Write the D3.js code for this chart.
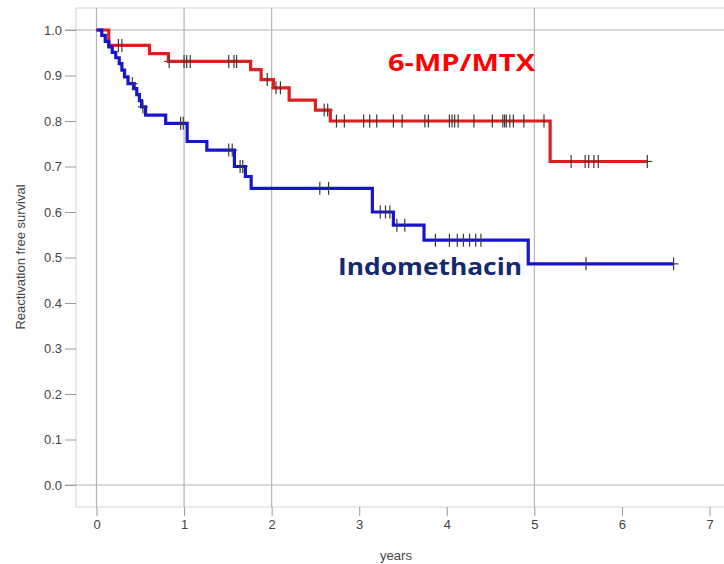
<!DOCTYPE html>
<html>
<head>
<meta charset="utf-8">
<script src="https://cdn.jsdelivr.net/npm/d3@7"></script>
<style>
  html, body { margin: 0; padding: 0; background: #fff; }
  svg { display: block; }
</style>
</head>
<body>
<svg id="chart" width="724" height="564"></svg>
<script>
// Kaplan-Meier reactivation-free survival, two treatment groups

// 6-MP/MTX: event times (years) and survival after each event
const mtxTimes    = [0.14, 0.605, 0.82, 1.76, 1.88, 2.02, 2.2, 2.5, 2.67, 5.18];
const mtxSurvival = [0.966, 0.948, 0.931, 0.913, 0.891, 0.873, 0.846, 0.824, 0.80, 0.711];
const mtxCensored = [0.25, 0.29, 0.83, 1.0, 1.03, 1.07, 1.51, 1.57, 1.6, 1.95, 2.05, 2.1,
  2.6, 2.64, 2.74, 2.83, 3.05, 3.12, 3.2, 3.39, 3.49, 3.75, 3.79, 4.03, 4.06, 4.09, 4.13,
  4.31, 4.52, 4.64, 4.66, 4.68, 4.72, 4.76, 4.88, 5.11, 5.42, 5.58, 5.62, 5.68, 5.73, 6.29];

// Indomethacin
const indoTimes    = [0.06, 0.10, 0.14, 0.18, 0.22, 0.26, 0.29, 0.32, 0.36, 0.43, 0.46, 0.49,
  0.515, 0.56, 0.79, 1.035, 1.26, 1.575, 1.70, 1.766, 3.15, 3.39, 3.74, 4.93];
const indoSurvival = [0.988, 0.975, 0.963, 0.951, 0.939, 0.926, 0.912, 0.897, 0.882, 0.871,
  0.858, 0.845, 0.831, 0.813, 0.795, 0.755, 0.736, 0.70, 0.678, 0.652, 0.60, 0.571, 0.538, 0.486];
const indoCensored = [0.41, 0.53, 0.96, 0.99, 1.51, 1.55, 1.64, 1.67, 2.55, 2.65, 3.24, 3.3,
  3.35, 3.43, 3.52, 3.87, 4.03, 4.12, 4.19, 4.26, 4.33, 4.39, 5.59, 6.59];

const xTicks = [0, 1, 2, 3, 4, 5, 6, 7];
const yTicks = [0, 0.1, 0.2, 0.3, 0.4, 0.5, 0.6, 0.7, 0.8, 0.9, 1.0];
const refYears = [0, 1, 2, 5];
const refLevels = [0, 1];

const svg = d3.select("#chart");
const x = d3.scaleLinear().domain([0, 7]).range([96.5, 709.5]);
const y = d3.scaleLinear().domain([0, 1]).range([485, 30]);

const frame = { left: 76, top: 8, bottom: 507, right: 740 };
const gridColor = "#b4b4b4";
const fontFam = "'Liberation Sans', Arial, sans-serif";

// plot frame
svg.append("rect")
  .attr("x", frame.left).attr("y", frame.top)
  .attr("width", frame.right - frame.left).attr("height", frame.bottom - frame.top)
  .attr("fill", "none").attr("stroke", "#d4d4d4").attr("stroke-width", 1);

// reference lines
svg.selectAll("line.vref").data(refYears).join("line")
  .attr("x1", d => x(d)).attr("x2", d => x(d))
  .attr("y1", frame.top).attr("y2", frame.bottom)
  .attr("stroke", gridColor).attr("stroke-width", 1.2);
svg.selectAll("line.href").data(refLevels).join("line")
  .attr("x1", 65).attr("x2", 724)
  .attr("y1", d => y(d)).attr("y2", d => y(d))
  .attr("stroke", gridColor).attr("stroke-width", 1.2);

// y axis
const yAxis = d3.axisLeft(y).tickValues(yTicks).tickFormat(d3.format(".1f")).tickSize(11).tickPadding(3);
const gy = svg.append("g").attr("transform", `translate(${frame.left},0)`).call(yAxis);
gy.select(".domain").remove();
gy.selectAll(".tick line").attr("stroke", "#9a9a9a");
gy.selectAll(".tick text").attr("fill", "#444").style("font-family", fontFam).style("font-size", "13px");

// x axis
const xAxis = d3.axisBottom(x).tickValues(xTicks).tickFormat(d3.format("d")).tickSize(9).tickPadding(4);
const gx = svg.append("g").attr("transform", `translate(0,${frame.bottom})`).call(xAxis);
gx.select(".domain").remove();
gx.selectAll(".tick line").attr("stroke", "#9a9a9a");
gx.selectAll(".tick text").attr("fill", "#444").style("font-family", fontFam).style("font-size", "13px");

// axis titles
svg.append("text")
  .attr("x", 396).attr("y", 560).attr("text-anchor", "middle")
  .attr("fill", "#444").style("font-family", fontFam).style("font-size", "13px")
  .text("years");
svg.append("text")
  .attr("transform", "translate(25,257) rotate(-90)").attr("text-anchor", "middle")
  .attr("fill", "#444").style("font-family", fontFam).style("font-size", "13px")
  .text("Reactivation free survival");

// survival value at time t for a step curve
function survAt(times, surv, t) {
  let s = 1;
  for (let i = 0; i < times.length; i++) if (times[i] <= t) s = surv[i];
  return s;
}

const stepLine = d3.line().x(d => x(d[0])).y(d => y(d[1])).curve(d3.curveStepAfter);

function drawCurve(times, surv, censored, color) {
  const end = d3.max(censored);
  const pts = [[0, 1]].concat(times.map((t, i) => [t, surv[i]]));
  pts.push([end, surv[surv.length - 1]]);
  const g = svg.append("g");
  const marks = censored.map(t => [t, survAt(times, surv, t)]);
  // horizontal arm of the censor cross (shows only at the curve end)
  g.selectAll("line.arm").data(marks).join("line")
    .attr("x1", d => x(d[0]) - 5).attr("x2", d => x(d[0]) + 5)
    .attr("y1", d => y(d[1])).attr("y2", d => y(d[1]))
    .attr("stroke", "#444").attr("stroke-width", 1.2);
  g.append("path").datum(pts).attr("d", stepLine)
    .attr("fill", "none").attr("stroke", color).attr("stroke-width", 3.2)
    .attr("stroke-linejoin", "miter");
  g.selectAll("line.tick").data(marks).join("line")
    .attr("x1", d => x(d[0])).attr("x2", d => x(d[0]))
    .attr("y1", d => y(d[1]) - 6.5).attr("y2", d => y(d[1]) + 6.5)
    .attr("stroke", "#3a3a3a").attr("stroke-width", 1.2);
}

drawCurve(mtxTimes, mtxSurvival, mtxCensored, "#dc1f1f");
drawCurve(indoTimes, indoSurvival, indoCensored, "#1616cc");

// group labels
const labelFont = "'Open Sans', Lato, sans-serif";
svg.append("text")
  .attr("x", 388).attr("y", 71)
  .attr("fill", "#ff0000").style("font-family", labelFont)
  .style("font-weight", "bold").style("font-size", "24px")
  .attr("textLength", 147).attr("lengthAdjust", "spacingAndGlyphs")
  .text("6-MP/MTX");
svg.append("text")
  .attr("x", 338).attr("y", 275)
  .attr("fill", "#14296e").style("font-family", labelFont)
  .style("font-weight", "bold").style("font-size", "24px")
  .attr("textLength", 184).attr("lengthAdjust", "spacingAndGlyphs")
  .text("Indomethacin");
</script>
</body>
</html>
